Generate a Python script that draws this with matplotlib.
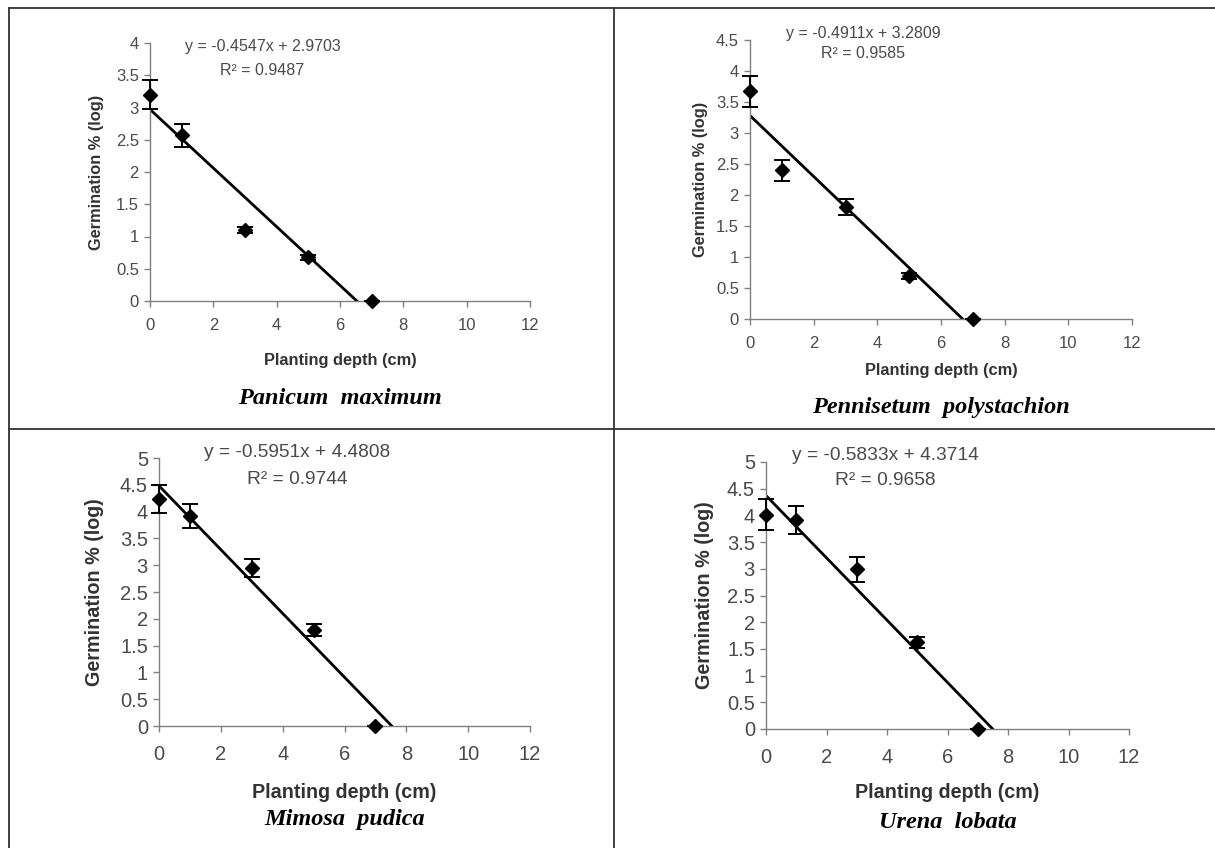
import numpy as np
import matplotlib.pyplot as plt
from matplotlib.lines import Line2D
from matplotlib.ticker import FuncFormatter, MultipleLocator

# planting depth (cm)
depth = [0, 1, 3, 5, 7]

species = ["Panicum  maximum", "Pennisetum  polystachion", "Mimosa  pudica", "Urena  lobata"]

# germination % (log) and error bars
germ_panicum = [3.20, 2.57, 1.10, 0.68, 0.0]
err_panicum = [0.22, 0.18, 0.05, 0.04, 0.0]
germ_pennisetum = [3.67, 2.40, 1.80, 0.70, 0.0]
err_pennisetum = [0.25, 0.17, 0.13, 0.05, 0.0]
germ_mimosa = [4.24, 3.92, 2.95, 1.79, 0.0]
err_mimosa = [0.26, 0.23, 0.17, 0.11, 0.0]
germ_urena = [4.01, 3.91, 2.99, 1.62, 0.0]
err_urena = [0.29, 0.26, 0.23, 0.11, 0.0]

# trend lines: slope, intercept, R2
slopes = [-0.4547, -0.4911, -0.5951, -0.5833]
intercepts = [2.9703, 3.2809, 4.4808, 4.3714]
r2 = ["0.9487", "0.9585", "0.9744", "0.9658"]
y_max = [4, 4.5, 5, 5]

W, H = 1215, 848
fig = plt.figure(figsize=(W / 100, H / 100), dpi=100)

def px(x0, y0, x1, y1):
    # pixel box (left, top, right, bottom) -> figure fraction
    return [x0 / W, 1 - y1 / H, (x1 - x0) / W, (y1 - y0) / H]

# panel boxes in pixels: left, top(ymax), right(x=12), bottom(y=0)
boxes = [(150, 43, 530, 301), (750, 40, 1132, 319), (159, 458, 530, 726), (766, 462, 1129, 729)]
eq_pos = [(3.55, 3.94, 3.58), (3.55, 4.61, 4.29), (4.47, 5.10, 4.59), (3.93, 5.13, 4.66)]
ylab_x = [97, 700, 95, 705]
xlab_y = [360, 370, 793, 793]
name_y = [398, 408, 820, 822]
tick_fs = [12, 12, 14.5, 14.5]
eq_fs = [11.5, 11.5, 13.8, 13.8]
lab_fs = [11.8, 11.8, 14.2, 14.2]

germ = [germ_panicum, germ_pennisetum, germ_mimosa, germ_urena]
errs = [err_panicum, err_pennisetum, err_mimosa, err_urena]

gray = "#4a4a4a"
for i in range(4):
    x0, y0, x1, y1 = boxes[i]
    ax = fig.add_axes(px(x0, y0, x1, y1))
    ax.errorbar(depth, germ[i], yerr=errs[i], fmt="D", color="black", ms=7,
                ecolor="black", elinewidth=1.4, capsize=5.5, capthick=1.4, zorder=3,
                clip_on=False)
    x_end = -intercepts[i] / slopes[i]
    xs = np.array([0, x_end])
    ax.plot(xs, slopes[i] * xs + intercepts[i], color="black", lw=2, zorder=2)
    ax.set_xlim(0, 12)
    ax.set_ylim(0, y_max[i])
    ax.xaxis.set_major_locator(MultipleLocator(2))
    ax.yaxis.set_major_locator(MultipleLocator(0.5))
    ax.yaxis.set_major_formatter(FuncFormatter(lambda v, p: "%g" % v))
    for s in ["top", "right"]:
        ax.spines[s].set_visible(False)
    for s in ["left", "bottom"]:
        ax.spines[s].set_color("#808080")
        ax.spines[s].set_linewidth(1)
    ax.tick_params(direction="out", length=4, width=1, color="#808080",
                   labelsize=tick_fs[i], labelcolor=gray)
    ax.tick_params(axis="x", pad=8 if i < 2 else 10)
    ax.tick_params(axis="y", pad=4)
    ex, ey, ry = eq_pos[i]
    ax.text(ex, ey, "y = %.4fx + %.4f" % (slopes[i], intercepts[i]), ha="center", va="center",
            fontsize=eq_fs[i], color=gray, family="Liberation Sans", clip_on=False)
    ax.text(ex, ry, "R² = " + r2[i], ha="center", va="center",
            fontsize=eq_fs[i], color=gray, family="Liberation Sans", clip_on=False)
    for lab in ax.get_xticklabels() + ax.get_yticklabels():
        lab.set_family("Liberation Sans")
    cx = (x0 + x1) / 2
    fig.text(ylab_x[i] / W, 1 - (y0 + y1) / 2 / H, "Germination % (log)", rotation=90,
             ha="center", va="center", fontsize=lab_fs[i], weight="bold", color="#333333",
             family="Liberation Sans")
    fig.text(cx / W, 1 - xlab_y[i] / H, "Planting depth (cm)", ha="center", va="center",
             fontsize=lab_fs[i], weight="bold", color="#333333", family="Liberation Sans")
    fig.text(cx / W, 1 - name_y[i] / H, species[i], ha="center", va="center",
             fontsize=17.5, weight="bold", style="italic", color="black",
             family="Liberation Serif")

# frame lines round the panels
def hline(y, xa, xb):
    fig.add_artist(Line2D([xa / W, xb / W], [1 - y / H, 1 - y / H], color="#333333", lw=1.3))

def vline(x, ya, yb):
    fig.add_artist(Line2D([x / W, x / W], [1 - ya / H, 1 - yb / H], color="#333333", lw=1.3))

hline(8, 9, W)
hline(429, 9, W)
vline(9, 8, H)
vline(614, 8, H)

fig.savefig("out.png", dpi=100)
